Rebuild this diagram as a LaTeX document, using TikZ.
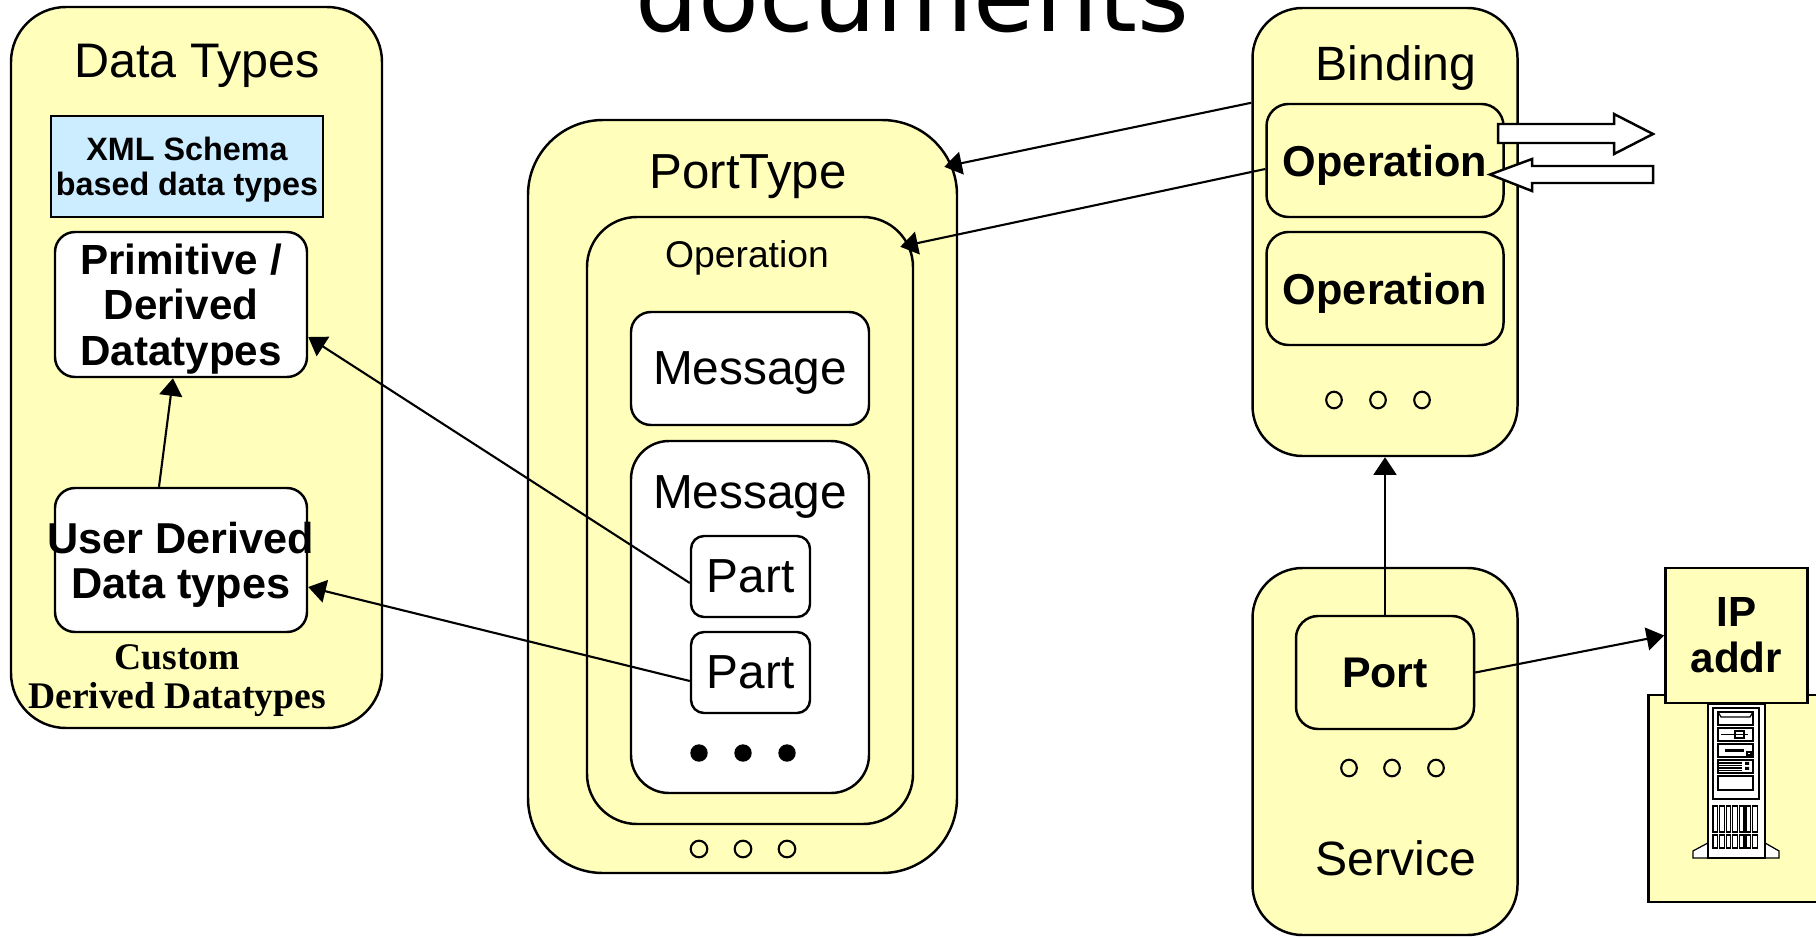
\documentclass[tikz,border=0pt]{standalone}
\usepackage{fontspec}
\setmainfont{Liberation Sans}
\newfontfamily\serifbold{Liberation Serif}
\newfontfamily\headfont{DejaVu Sans}
\usetikzlibrary{arrows.meta,calc}

\definecolor{boxyellow}{RGB}{255,255,187}
\definecolor{schemablue}{RGB}{204,236,255}

\begin{document}
\begin{tikzpicture}[
    box/.style={draw, line width=0.7pt, inner sep=0pt, align=center},
    yellowbox/.style={box, fill=boxyellow, rounded corners=#1},
    yellowbox/.default=0.5cm,
    whitebox/.style={box, fill=white, rounded corners=#1},
    whitebox/.default=0.2cm,
    link/.style={line width=0.6pt, -{Triangle[length=5pt,width=6.5pt]}},
    fatarrow/.style={draw, line width=0.7pt, fill=white, line join=miter}
]
    % Page area
    \useasboundingbox (0,0) rectangle (18.16,9.37);
    \clip (0,0) rectangle (18.16,9.37);

    % Heading, cut by the top edge
    \node[anchor=base, font=\headfont\fontsize{28.3}{34}\selectfont] (heading) at (9.12,9.06) {documents};

    % Data types
    \node[yellowbox=0.55cm, minimum width=3.71cm, minimum height=7.21cm] (types) at (1.965,5.695) {};
    \node[anchor=base, font=\fontsize{13.8}{16}\selectfont] (types-title) at (1.97,8.60) {Data Types};
    \node[box, fill=schemablue, minimum width=2.72cm, minimum height=1.01cm, text depth=0pt, font=\bfseries\fontsize{9.2}{10}\selectfont] (schema) at (1.87,7.705) {XML Schema\\based data types};
    \node[whitebox, minimum width=2.52cm, minimum height=1.45cm, text depth=0pt, font=\bfseries\fontsize{12}{12.9}\selectfont] (primitive) at (1.81,6.325) {Primitive /\\Derived\\Datatypes};
    \node[whitebox, minimum width=2.52cm, minimum height=1.44cm] (userbox) at (1.81,3.77) {};
    \node[align=center, font=\bfseries\fontsize{12.3}{12.9}\selectfont] (usertext) at (1.81,3.72) {User Derived\\Data types};
    \node[align=center, font=\serifbold\bfseries\fontsize{10.7}{11.2}\selectfont] (custom) at (1.77,2.563) {Custom\\Derived Datatypes};

    % Port type with its operation and messages
    \node[yellowbox=0.75cm, minimum width=4.29cm, minimum height=7.53cm] (porttype) at (7.425,4.405) {};
    \node[anchor=base, font=\fontsize{14}{16}\selectfont] (porttype-title) at (7.48,7.49) {PortType};
    \node[yellowbox=0.5cm, minimum width=3.26cm, minimum height=6.07cm] (operation) at (7.50,4.165) {};
    \node[anchor=base, font=\fontsize{10.6}{13}\selectfont] (operation-title) at (7.47,6.70) {Operation};
    \node[whitebox, minimum width=2.38cm, minimum height=1.13cm, text depth=0pt, font=\fontsize{13.6}{16}\selectfont] (message1) at (7.50,5.685) {Message};
    \node[whitebox=0.38cm, minimum width=2.38cm, minimum height=3.52cm] (message2) at (7.50,3.20) {};
    \node[anchor=base, font=\fontsize{13.6}{16}\selectfont] (message2-title) at (7.50,4.29) {Message};
    \node[whitebox=0.13cm, minimum width=1.19cm, minimum height=0.81cm, text depth=0pt, font=\fontsize{13.6}{16}\selectfont] (part1) at (7.505,3.605) {Part};
    \node[whitebox=0.13cm, minimum width=1.19cm, minimum height=0.81cm, text depth=0pt, font=\fontsize{13.6}{16}\selectfont] (part2) at (7.505,2.645) {Part};
    % more parts, more operations
    \fill (6.99,1.84) circle (0.087) (7.43,1.84) circle (0.087) (7.87,1.84) circle (0.087);
    \draw[line width=0.6pt] (6.99,0.88) circle (0.083) (7.43,0.88) circle (0.083) (7.87,0.88) circle (0.083);

    % Binding
    \node[yellowbox, minimum width=2.65cm, minimum height=4.48cm] (binding) at (13.85,7.05) {};
    \node[anchor=base, font=\fontsize{13.7}{16}\selectfont] (binding-title) at (13.96,8.57) {Binding};
    \node[yellowbox=0.22cm, minimum width=2.37cm, minimum height=1.13cm, text depth=0pt, font=\bfseries\fontsize{12.3}{14}\selectfont] (bindop1) at (13.85,7.765) {Operation};
    \node[yellowbox=0.22cm, minimum width=2.37cm, minimum height=1.13cm, text depth=0pt, font=\bfseries\fontsize{12.3}{14}\selectfont] (bindop2) at (13.85,6.485) {Operation};
    \draw[line width=0.6pt] (13.34,5.37) ellipse (0.078 and 0.083) (13.78,5.37) ellipse (0.078 and 0.083) (14.22,5.37) ellipse (0.078 and 0.083);

    % Messages going out and coming in
    \draw[fatarrow] (14.98,8.13) -- (16.14,8.13) -- (16.14,8.23) -- (16.53,8.03) -- (16.14,7.83) -- (16.14,7.94) -- (14.98,7.94) -- cycle;
    \draw[fatarrow] (16.53,7.71) -- (15.32,7.71) -- (15.32,7.78) -- (14.90,7.625) -- (15.32,7.46) -- (15.32,7.54) -- (16.53,7.54) -- cycle;

    % Service
    \node[yellowbox, minimum width=2.65cm, minimum height=3.67cm] (service) at (13.85,1.855) {};
    \node[yellowbox=0.22cm, minimum width=1.78cm, minimum height=1.13cm, text depth=0pt, font=\bfseries\fontsize{12.2}{14}\selectfont] (port) at (13.85,2.645) {Port};
    \draw[line width=0.6pt] (13.49,1.69) ellipse (0.078 and 0.083) (13.92,1.69) ellipse (0.078 and 0.083) (14.36,1.69) ellipse (0.078 and 0.083);
    \node[anchor=base, font=\fontsize{13.7}{16}\selectfont] (service-title) at (13.96,0.62) {Service};

    % Host machine
    \draw[line width=0.7pt, fill=boxyellow] (16.485,0.35) rectangle (18.4,2.42);
    \begin{scope}[xshift=17.08cm, yshift=2.33cm]
    \begin{scope}[x=0.01cm, y=-0.01cm, line width=0.35pt]
        % tower and feet
        \draw[fill=white] (0,139) -- (-15,147) -- (-15,154) -- (71,154) -- (71,147) -- (57,139) -- cycle;
        \draw[fill=white] (0,0) rectangle (57,154);
        \draw (5,4) rectangle (51,95);
        % drive bays
        \draw (10,8) rectangle (45,21) (10,24) rectangle (45,37) (10,40) rectangle (45,53) (10,56) rectangle (45,69) (10,72) rectangle (45,86);
        \draw (10,8) -- (13,13) -- (42,13) -- (45,8);
        \draw (13,30.5) -- (40,30.5) (27,27) rectangle (36,34);
        \draw[line width=1pt] (17,46.5) -- (36,46.5);
        \draw (39,48) rectangle (43,51);
        \draw (11,59) -- (34,59) (11,61.5) -- (34,61.5) (11,64) -- (34,64) (11,66.5) -- (34,66.5);
        \fill (37,58) rectangle (41,61) (37,63) rectangle (41,66);
        % vents
        \draw (5,102) rectangle (9.6,128) (11.6,102) rectangle (16.2,128) (18.2,102) rectangle (22.8,128) (24.8,102) rectangle (29.4,128) (31.4,102) rectangle (36,128) (38,102) rectangle (42.6,128) (44.6,102) rectangle (49.2,128);
        \draw (5,131) rectangle (9.6,144) (11.6,131) rectangle (16.2,144) (18.2,131) rectangle (22.8,144) (24.8,131) rectangle (29.4,144) (31.4,131) rectangle (36,144) (38,131) rectangle (42.6,144) (44.6,131) rectangle (49.2,144);
    \end{scope}
    \end{scope}
    \node[box, fill=boxyellow, minimum width=1.42cm, minimum height=1.35cm, font=\bfseries\fontsize{12}{13.1}\selectfont] (ipaddr) at (17.364,3.015) {IP\\addr};

    % Links between the parts
    \draw[link] ($(userbox.north)+(-0.22,0)$) -- ($(primitive.south)+(-0.08,0)$);
    \draw[link] ($(part1.west)+(0,-0.065)$) -- ($(primitive.east)+(0,-0.325)$);
    \draw[link] ($(part2.west)+(0,-0.085)$) -- ($(userbox.east)+(0,-0.27)$);
    \draw[link] (binding.west |- bindop1.north) -- ($(porttype.north east)+(-0.14,-0.48)$);
    \draw[link] ($(bindop1.west)+(0,-0.085)$) -- ($(operation.north east)+(-0.14,-0.31)$);
    \draw[link] (port.north) -- (binding.south);
    \draw[link] (port.east) -- (ipaddr.west);
\end{tikzpicture}
\end{document}
